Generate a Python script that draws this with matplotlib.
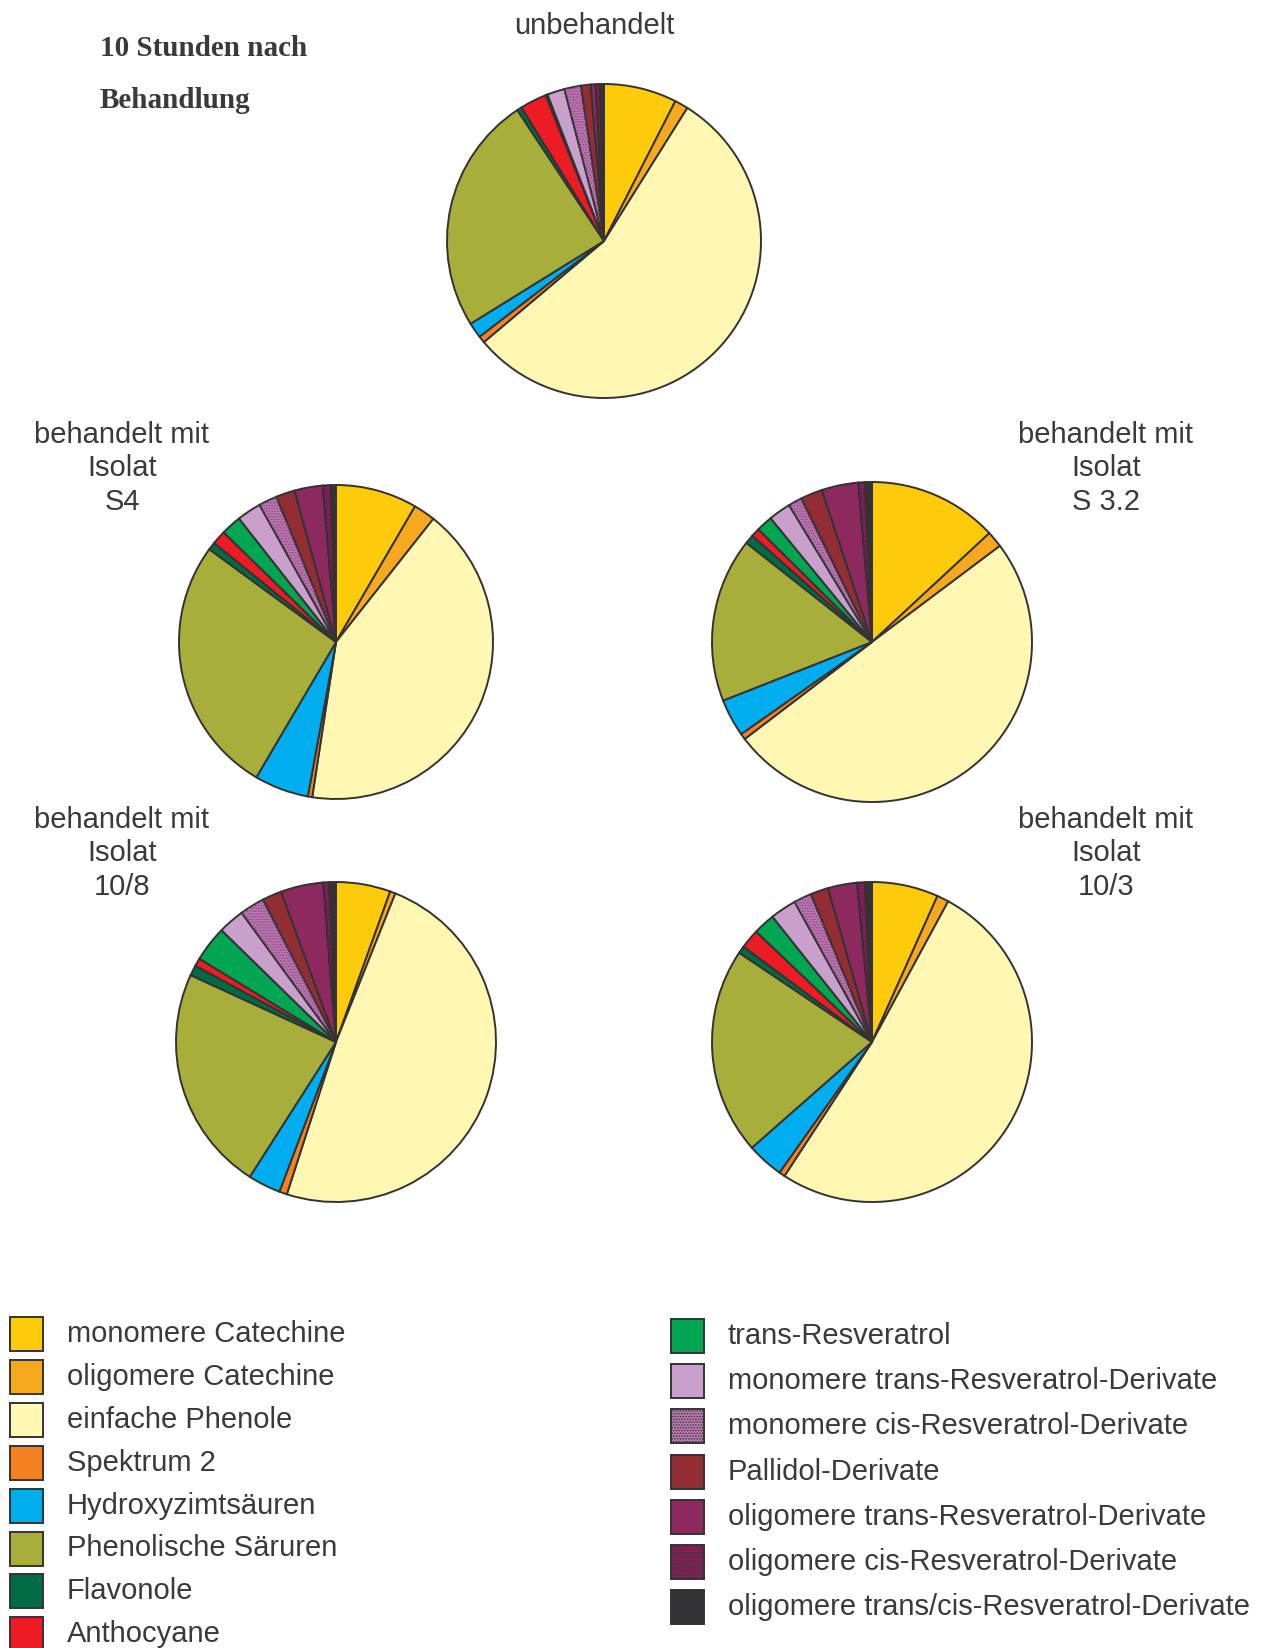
import matplotlib
matplotlib.use("Agg")
import matplotlib.pyplot as plt
from matplotlib.patches import Wedge, Rectangle

plt.rcParams['font.family'] = ['Liberation Sans', 'DejaVu Sans']
plt.rcParams['hatch.linewidth'] = 0.7

# Substance classes (clockwise from 12 o'clock in every pie)
categories = [
    "monomere Catechine",
    "oligomere Catechine",
    "einfache Phenole",
    "Spektrum 2",
    "Hydroxyzimtsäuren",
    "Phenolische Säruren",
    "Flavonole",
    "Anthocyane",
    "trans-Resveratrol",
    "monomere trans-Resveratrol-Derivate",
    "monomere cis-Resveratrol-Derivate",
    "Pallidol-Derivate",
    "oligomere trans-Resveratrol-Derivate",
    "oligomere cis-Resveratrol-Derivate",
    "oligomere trans/cis-Resveratrol-Derivate",
]

# Share of each class (%) 10 h after treatment
unbehandelt = [7.5, 1.4, 54.9, 0.7, 1.6, 24.5, 0.5, 2.75, 0.2, 1.8, 1.7, 1.0, 0.5, 0.45, 0.4]
isolat_s4 = [8.4, 2.25, 41.8, 0.45, 5.6, 26.6, 0.8, 1.45, 2.1, 2.5, 1.9, 1.95, 2.9, 0.8, 0.55]
isolat_s32 = [13.1, 1.65, 49.9, 0.6, 3.8, 16.6, 0.93, 0.87, 1.65, 2.25, 1.4, 2.2, 3.7, 0.67, 0.7]
isolat_10_8 = [5.5, 0.55, 48.9, 0.78, 3.3, 22.8, 1.05, 0.8, 3.6, 2.65, 2.5, 1.96, 4.3, 0.6, 0.67]
isolat_10_3 = [6.7, 1.2, 51.3, 0.6, 3.7, 20.9, 0.75, 1.95, 2.2, 2.65, 1.8, 1.8, 2.95, 0.78, 0.7]

pie_titles = ["unbehandelt", "behandelt mit\nIsolat\nS4", "behandelt mit\nIsolat\nS 3.2",
              "behandelt mit\nIsolat\n10/8", "behandelt mit\nIsolat\n10/3"]

colors = ["#FECB0A", "#F6A81E", "#FFF7B2", "#F58220", "#00AEEF", "#A8AE3A",
          "#006B45", "#ED1C24", "#00A651", "#C8A0CB", "#BA78B0", "#922D33",
          "#8E295F", "#84225A", "#333337"]
# dotted fill for the cis-derivative classes
hatched = {10: "#8A3F7E", 13: "#5E1240"}
edge = "#333333"
text_color = "#3A3A3C"

W, H = 1268, 1648
fig = plt.figure(figsize=(W / 100, H / 100), dpi=100)
fig.patch.set_facecolor("white")


def add_pie(cx, cy, r, values, pad=1.04):
    s = r * pad
    ax = fig.add_axes([(cx - s) / W, (H - cy - s) / H, 2 * s / W, 2 * s / H])
    wedges, _ = ax.pie(values, colors=colors, startangle=90, counterclock=False,
                       radius=1, wedgeprops=dict(edgecolor=edge, linewidth=1.4))
    for i, hc in hatched.items():
        w = wedges[i]
        ax.add_patch(Wedge(w.center, w.r, w.theta1, w.theta2, facecolor="none",
                           edgecolor=hc, hatch="......", linewidth=0))
    ax.set_xlim(-pad, pad)
    ax.set_ylim(-pad, pad)
    ax.set_aspect("equal")
    ax.axis("off")
    return ax


add_pie(604, 241, 157, unbehandelt)
add_pie(336, 642, 157, isolat_s4)
add_pie(872, 642, 160, isolat_s32)
add_pie(336, 1042, 160, isolat_10_8)
add_pie(872, 1042, 160, isolat_10_3)

# Overlay in pixel coordinates for titles and legend
ov = fig.add_axes([0, 0, 1, 1])
ov.set_xlim(0, W)
ov.set_ylim(H, 0)
ov.axis("off")
ov.patch.set_alpha(0)

ov.text(100, 48, "10 Stunden nach", family="Liberation Serif", weight="bold",
        fontsize=21, color=text_color, ha="left", va="center")
ov.text(100, 100, "Behandlung", family="Liberation Serif", weight="bold",
        fontsize=21, color=text_color, ha="left", va="center")

label_kw = dict(fontsize=21, color=text_color, ha="center", va="center", linespacing=1.25)
ov.text(594, 26, pie_titles[0], **label_kw)
ov.text(122, 468, pie_titles[1], **label_kw)
ov.text(1106, 468, pie_titles[2], **label_kw)
ov.text(122, 853, pie_titles[3], **label_kw)
ov.text(1106, 853, pie_titles[4], **label_kw)

# Legend: first eight classes left, remaining seven right
left_idx = list(range(8))
right_idx = list(range(8, 15))
for k, i in enumerate(left_idx):
    y = 1334 + k * 42.9
    ov.add_patch(Rectangle((10, y - 17), 33, 34, facecolor=colors[i], edgecolor=edge,
                           linewidth=1.4, hatch="......" if i in hatched else None))
    ov.text(67, y, categories[i], fontsize=21, color=text_color, ha="left", va="center")
for k, i in enumerate(right_idx):
    y = 1336 + k * 45.2
    ov.add_patch(Rectangle((671, y - 17), 33, 34, facecolor=colors[i], edgecolor=edge,
                           linewidth=1.4, hatch="......" if i in hatched else None))
    ov.text(728, y, categories[i], fontsize=21, color=text_color, ha="left", va="center")

fig.savefig("out.png", dpi=100)
